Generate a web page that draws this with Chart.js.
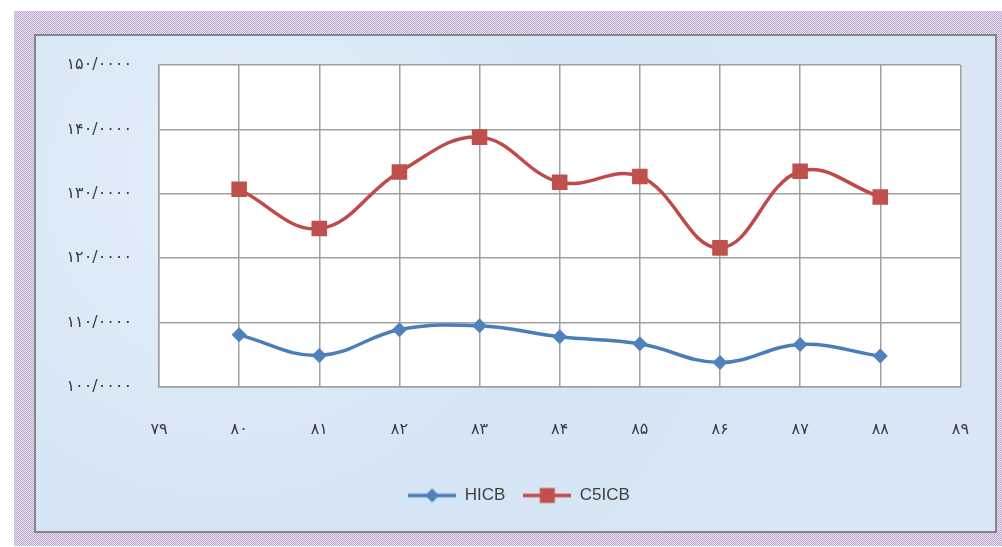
<!DOCTYPE html>
<html>
<head>
<meta charset="utf-8">
<script src="https://cdn.jsdelivr.net/npm/chart.js@4.4.0/dist/chart.umd.min.js"></script>
<style>
html, body { margin: 0; padding: 0; background: #fff; }
#wrap { position: relative; width: 1002px; height: 547px; overflow: hidden; }
#frame { position: absolute; left: 14px; top: 11px; width: 988px; height: 535px;
  background: repeating-conic-gradient(#b9a7cf 0 25%, #ebe4f2 0 50%) 0 0 / 2px 2px; }
#panel { position: absolute; left: 34px; top: 34px; width: 959px; height: 495px;
  border: 2px solid #858585;
  background: radial-gradient(circle at 20% 30%, #e3eef9 0, #d6e5f5 40%, #d9e7f6 100%); }
#myChart { position: absolute; left: 0; top: 0; }
</style>
</head>
<body>
<div id="wrap">
  <div id="frame"></div>
  <div id="panel"></div>
  <canvas id="myChart" width="1002" height="547"></canvas>
</div>
<script>
var xLabels = ['۷۹', '۸۰', '۸۱', '۸۲', '۸۳', '۸۴', '۸۵', '۸۶', '۸۷', '۸۸', '۸۹'];
var yTickLabels = ['۱۰۰/۰۰۰۰', '۱۱۰/۰۰۰۰', '۱۲۰/۰۰۰۰', '۱۳۰/۰۰۰۰', '۱۴۰/۰۰۰۰', '۱۵۰/۰۰۰۰'];
var hicb = [null, 108.1, 104.9, 108.9, 109.5, 107.8, 106.7, 103.8, 106.6, 104.8, null];
var c5icb = [null, 130.7, 124.6, 133.4, 138.8, 131.8, 132.7, 121.6, 133.5, 129.5, null];

var blueLine = '#4a7ebb', blueFill = '#4f81bd';
var redLine = '#be4b48', redFill = '#c0504d';

window.addEventListener('load', function() {
    drawChart();
});

// small line + marker picture for the legend, excel style
function legendIcon(color, fill, shape) {
    var c = document.createElement('canvas');
    c.width = 48; c.height = 18;
    var g = c.getContext('2d');
    g.strokeStyle = color;
    g.lineWidth = 3.5;
    g.beginPath();
    g.moveTo(0, 9); g.lineTo(48, 9);
    g.stroke();
    g.fillStyle = fill;
    g.beginPath();
    if (shape == 'diamond') {
        g.moveTo(24, 2); g.lineTo(31, 9); g.lineTo(24, 16); g.lineTo(17, 9);
    } else {
        g.rect(16.5, 1.5, 15, 15);
    }
    g.closePath();
    g.fill();
    return c;
}

var plotBg = {
    id: 'plotBg',
    afterLayout: function(chart) {
        // legend sits centred under the panel, not under the whole canvas
        chart.legend.left += 76;
    },
    beforeDraw: function(chart) {
        var a = chart.chartArea, ctx = chart.ctx;
        ctx.save();
        ctx.fillStyle = '#ffffff';
        ctx.fillRect(a.left, a.top, a.right - a.left, a.bottom - a.top);
        ctx.restore();
    }
};

function drawChart() {
    var icons = [legendIcon(blueLine, blueFill, 'diamond'), legendIcon(redLine, redFill, 'square')];
    var tickFont = { family: 'DejaVu Sans', size: 16 };

    new Chart(document.getElementById('myChart'), {
        type: 'line',
        data: {
            labels: xLabels,
            datasets: [
                {
                    label: 'HICB',
                    data: hicb,
                    borderColor: blueLine,
                    backgroundColor: blueFill,
                    borderWidth: 3.5,
                    pointStyle: 'rectRot',
                    pointRadius: 7.5,
                    pointBorderWidth: 0,
                    tension: 0.4
                },
                {
                    label: 'C5ICB',
                    data: c5icb,
                    borderColor: redLine,
                    backgroundColor: redFill,
                    borderWidth: 3.5,
                    pointStyle: 'rect',
                    pointRadius: 11,
                    pointBorderWidth: 0,
                    tension: 0.4
                }
            ]
        },
        options: {
            responsive: false,
            animation: false,
            layout: { padding: { top: 65, right: 40, bottom: 33, left: 0 } },
            plugins: {
                tooltip: { enabled: false },
                legend: {
                    position: 'bottom',
                    labels: {
                        usePointStyle: true,
                        pointStyleWidth: 48,
                        padding: 18,
                        color: '#404040',
                        font: { family: 'Liberation Sans', size: 17 },
                        generateLabels: function(chart) {
                            return chart.data.datasets.map(function(ds, i) {
                                return { text: ds.label, pointStyle: icons[i], datasetIndex: i,
                                         fontColor: '#404040', lineWidth: 0, strokeStyle: 'transparent' };
                            });
                        }
                    }
                }
            },
            scales: {
                x: {
                    offset: false,
                    grid: { color: '#a0a0a0', lineWidth: 1.5, drawTicks: false },
                    border: { color: '#a0a0a0', width: 1.5 },
                    ticks: { color: '#3a3a3a', font: tickFont, padding: 33, maxRotation: 0, autoSkip: false },
                    afterFit: function(scale) { scale.height = 82; }
                },
                y: {
                    min: 100,
                    max: 150,
                    grid: { color: '#a0a0a0', lineWidth: 1.5, drawTicks: false },
                    border: { color: '#a0a0a0', width: 1.5 },
                    ticks: {
                        stepSize: 10,
                        color: '#3a3a3a',
                        font: tickFont,
                        padding: 27,
                        callback: function(value, index) { return yTickLabels[index]; }
                    },
                    afterFit: function(scale) { scale.width = 159; }
                }
            }
        },
        plugins: [plotBg]
    });
}
</script>
</body>
</html>
